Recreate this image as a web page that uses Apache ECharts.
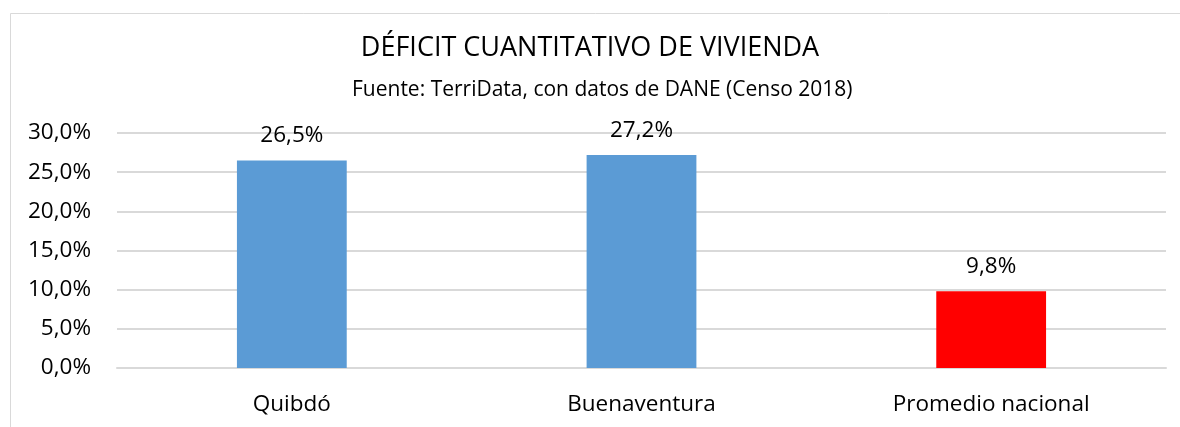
<!DOCTYPE html>
<html>
<head>
<meta charset="utf-8">
<script src="https://cdn.jsdelivr.net/npm/echarts@6/dist/echarts.min.js"></script>
<style>
  html, body { margin: 0; padding: 0; background: #fff; }
  #chart { width: 1180px; height: 427px; }
</style>
</head>
<body>
<div id="chart"></div>
<script>
// data
var categories = ['Quibdó', 'Buenaventura', 'Promedio nacional'];
var deficitValues = [26.5, 27.2, 9.8];
var barColors = ['#5b9bd5', '#5b9bd5', '#ff0000'];
var yTicks = { min: 0, max: 30, interval: 5 };

var titleText = 'DÉFICIT CUANTITATIVO DE VIVIENDA';
var subtitleText = 'Fuente: TerriData, con datos de DANE (Censo 2018)';

var FONT = '"Open Sans", "Noto Sans", sans-serif';

function pct(v) {
  return v.toFixed(1).replace('.', ',') + '%';
}

var chart = echarts.init(document.getElementById('chart'), null, { renderer: 'canvas' });

var option = {
  animation: false,
  backgroundColor: '#fff',
  textStyle: { fontFamily: FONT, color: '#000' },
  graphic: [
    {
      // the outer chart-area frame (runs off the right and bottom edges)
      type: 'rect',
      left: 8, top: 11,
      shape: { width: 1200, height: 500 },
      style: { fill: 'none', stroke: '#d9d9d9', lineWidth: 1 },
      silent: true,
      z: -1
    }
  ],
  title: [
    {
      text: titleText,
      left: 'center',
      top: 30,
      textStyle: { fontFamily: FONT, fontSize: 27, fontWeight: 'normal', color: '#000' }
    },
    {
      // subtitle sits a little right of the main title in the original
      text: subtitleText,
      left: 347,
      top: 75,
      textStyle: { fontFamily: FONT, fontSize: 21, fontWeight: 'normal', color: '#000' }
    }
  ],
  grid: {
    left: 117,
    right: 14,
    top: 133,
    bottom: 59,
    containLabel: false
  },
  xAxis: {
    type: 'category',
    data: categories,
    axisLine: { show: true, lineStyle: { color: '#d9d9d9', width: 2 } },
    axisTick: { show: false },
    axisLabel: { fontFamily: FONT, fontSize: 22.5, color: '#000', margin: 25 }
  },
  yAxis: {
    type: 'value',
    min: yTicks.min,
    max: yTicks.max,
    interval: yTicks.interval,
    axisLine: { show: false },
    axisTick: { show: false },
    splitLine: { lineStyle: { color: '#d9d9d9', width: 2 } },
    axisLabel: {
      fontFamily: FONT, fontSize: 22.5, color: '#000', margin: 26,
      formatter: function (v) { return pct(v); }
    }
  },
  series: [
    {
      type: 'bar',
      barWidth: '31.4%',
      data: deficitValues.map(function (v, i) {
        return { value: v, itemStyle: { color: barColors[i] } };
      }),
      label: {
        show: true,
        position: 'top',
        distance: 13,
        fontFamily: FONT,
        fontSize: 22.5,
        color: '#000',
        formatter: function (p) { return pct(p.value); }
      }
    }
  ]
};

chart.setOption(option);
</script>
</body>
</html>
